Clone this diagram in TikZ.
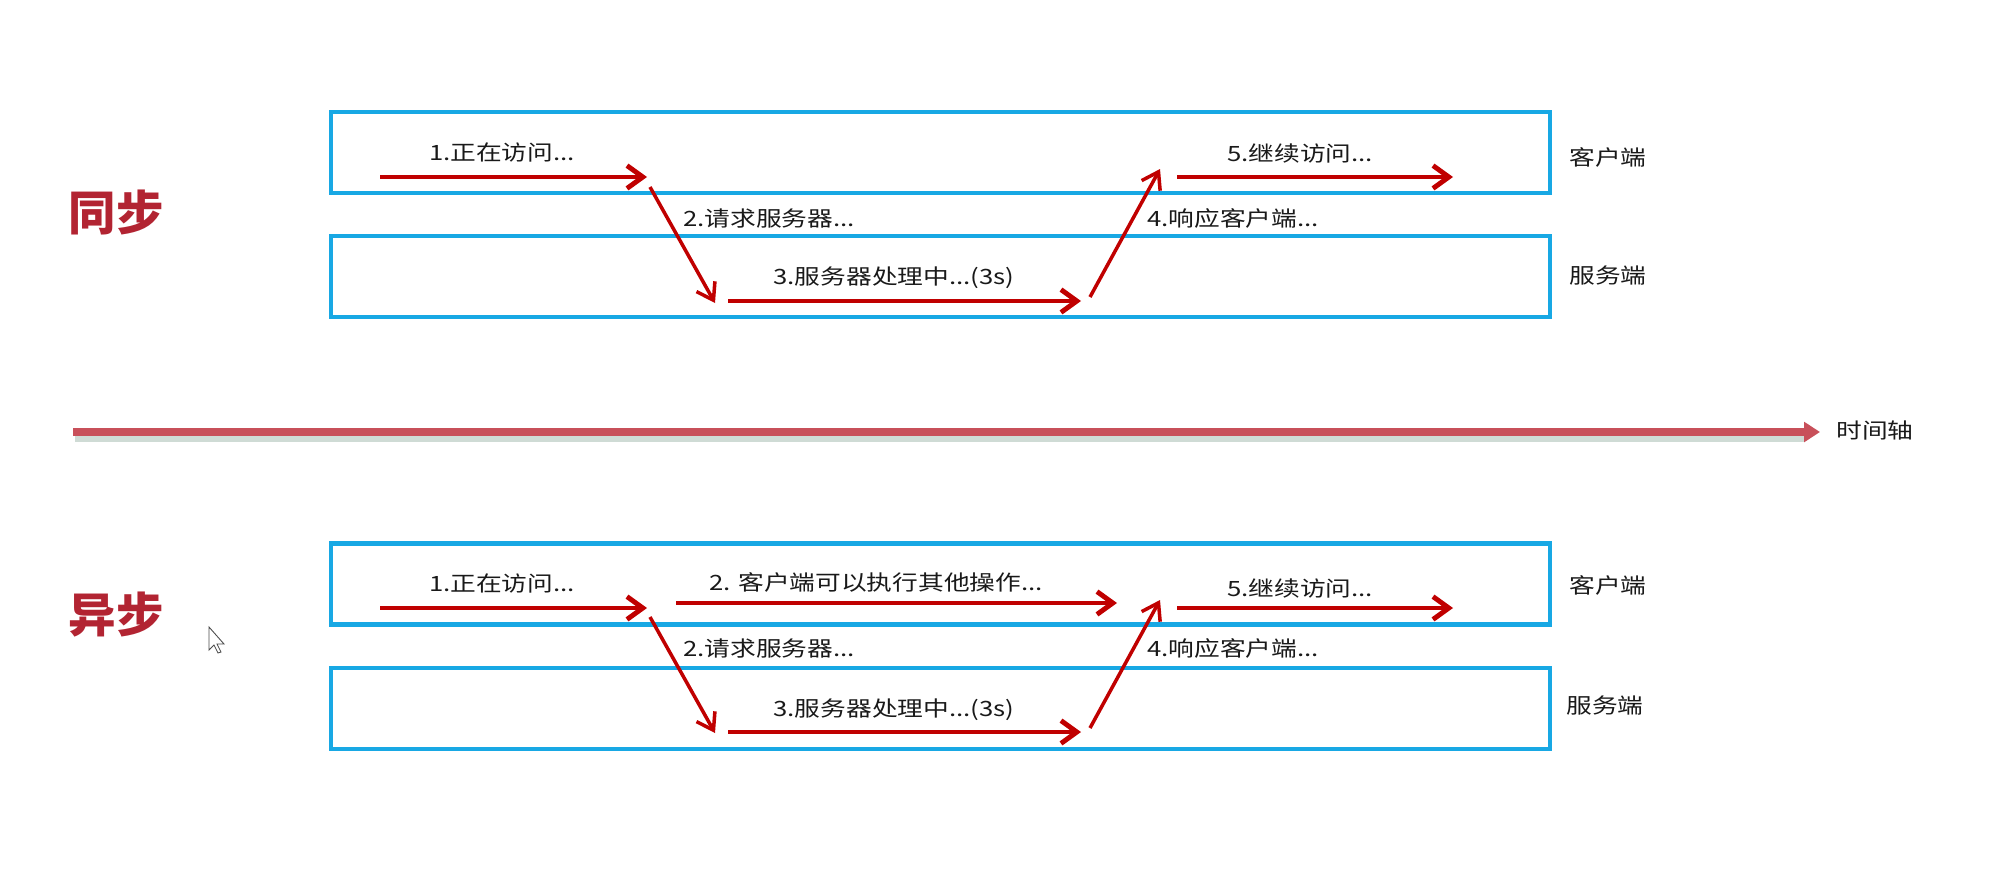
\documentclass[tikz,border=0pt]{standalone}
\usepackage{fontspec}
\setmainfont{Noto Sans CJK SC}[FakeStretch=1.22]
\newfontfamily\titlefont{Noto Sans CJK SC}
\usetikzlibrary{arrows.meta}
\definecolor{laneBlue}{RGB}{24,168,228}
\definecolor{flowRed}{RGB}{192,0,0}
\definecolor{titleRed}{RGB}{178,36,50}
\definecolor{axisRed}{RGB}{200,80,90}
\definecolor{axisShade}{RGB}{175,195,185}

\begin{document}
\begin{tikzpicture}[x=0.02cm, y=-0.02cm,
    lane/.style={draw=laneBlue, line width=2.3pt, minimum width=24.38cm, minimum height=1.62cm, inner sep=0pt},
    lbl/.style={font=\fontsize{12}{14}\selectfont, text=black!90, inner sep=0pt},
    heading/.style={font=\titlefont\bfseries\fontsize{27}{30}\selectfont, text=titleRed, inner sep=0pt},
    flow/.style={flowRed, line width=2.8pt, -{Straight Barb[length=9pt,width=13pt]}},
    hop/.style={flowRed, line width=2pt, -{Straight Barb[length=9pt,width=12pt]}}]
        \useasboundingbox (0,0) rectangle (2013,869);

        % synchronous
        \node[heading] (sync) at (116,212) {同步};
        \node[lane] (client1) at (940.5,152.5) {};
        \node[lane] (server1) at (940.5,276.5) {};
        \node[lbl, anchor=west] (cname1) at (1569,157) {客户端};
        \node[lbl, anchor=west] (sname1) at (1569,275) {服务端};

        \coordinate (p1) at (380,177);   \coordinate (p2) at (647,177);
        \coordinate (p3) at (650,187);   \coordinate (p4) at (715,303);
        \coordinate (p5) at (728,301);   \coordinate (p6) at (1081,301);
        \coordinate (p7) at (1090,297);  \coordinate (p8) at (1160,169);
        \coordinate (p9) at (1177,177);  \coordinate (p10) at (1453,177);

        \draw[flow] (p1) -- (p2);
        \draw[hop] (p3) -- (p4);
        \draw[flow] (p5) -- (p6);
        \draw[hop] (p7) -- (p8);
        \draw[flow] (p9) -- (p10);

        \node[lbl] (s1) at (502,153) {1.正在访问...};
        \node[lbl, anchor=west] (s2) at (683,218) {2.请求服务器...};
        \node[lbl] (s3) at (894,278) {3.服务器处理中...(3s)};
        \node[lbl, anchor=west] (s4) at (1147,218) {4.响应客户端...};
        \node[lbl] (s5) at (1300,153) {5.继续访问...};

        % time axis
        \coordinate (t0) at (73,432);
        \coordinate (t1) at (1820,432);
        \draw[axisShade, opacity=0.6, line width=4pt] (75,438) -- (1805,438);
        \draw[axisRed, line width=4.5pt, -{Triangle[length=9pt,width=11pt]}] (t0) -- (t1);
        \node[lbl, anchor=west] (axis) at (1836,430) {时间轴};

        % asynchronous
        \node[heading] (async) at (116,615) {异步};
        \node[lane] (client2) at (940.5,584) {};
        \node[lane] (server2) at (940.5,708.5) {};
        \node[lbl, anchor=west] (cname2) at (1569,585) {客户端};
        \node[lbl, anchor=west] (sname2) at (1566,705) {服务端};

        \coordinate (q1) at (380,608);   \coordinate (q2) at (647,608);
        \coordinate (q3) at (650,617);   \coordinate (q4) at (715,733);
        \coordinate (q5) at (728,732);   \coordinate (q6) at (1081,732);
        \coordinate (q7) at (1090,728);  \coordinate (q8) at (1160,600);
        \coordinate (q9) at (1177,608);  \coordinate (q10) at (1453,608);
        \coordinate (q11) at (676,603);  \coordinate (q12) at (1117,603);

        \draw[flow] (q1) -- (q2);
        \draw[flow] (q11) -- (q12);
        \draw[hop] (q3) -- (q4);
        \draw[flow] (q5) -- (q6);
        \draw[hop] (q7) -- (q8);
        \draw[flow] (q9) -- (q10);

        \node[lbl] (a1) at (502,583) {1.正在访问...};
        \node[lbl] (a2) at (876,582) {2. 客户端可以执行其他操作...};
        \node[lbl, anchor=west] (a3) at (683,648) {2.请求服务器...};
        \node[lbl] (a4) at (894,710) {3.服务器处理中...(3s)};
        \node[lbl, anchor=west] (a5) at (1147,648) {4.响应客户端...};
        \node[lbl] (a6) at (1300,588) {5.继续访问...};

        % mouse pointer
        \filldraw[fill=white, draw=black!70, line width=0.5pt]
          (209,627) -- (209,650) -- (214,645) -- (218,653) -- (221,652)
          -- (217,644) -- (224,644) -- cycle;
      \end{tikzpicture}
\end{document}
